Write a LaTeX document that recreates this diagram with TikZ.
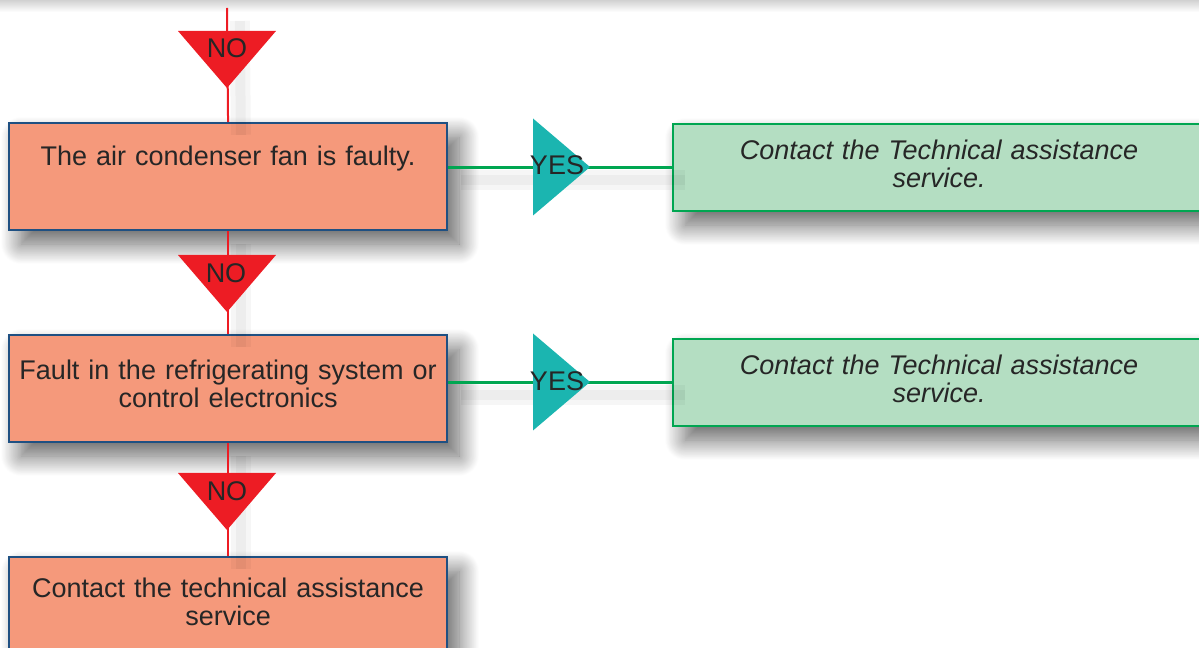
\documentclass[tikz,border=0pt]{standalone}
\usepackage{fontspec}
\setmainfont{Liberation Sans}
\usepackage{xcolor}
\usetikzlibrary{shadows.blur}
\definecolor{salmon}{HTML}{F5997B}
\definecolor{boxblue}{HTML}{1F5082}
\definecolor{nored}{HTML}{ED1C24}
\definecolor{yesteal}{HTML}{1BB5B0}
\definecolor{yesgreen}{HTML}{00A651}
\definecolor{mint}{HTML}{B4DEC2}
\newcommand{\boxfont}{\fontsize{19.2}{19.9}\selectfont}
\tikzset{
  softshadow/.style={blur shadow={shadow xshift=0.3cm, shadow yshift=-0.35cm, shadow blur radius=0.5cm, shadow blur steps=25, shadow opacity=62}},
  lineshadow/.style={preaction={draw=black, draw opacity=0.035, line width=0.5cm,
    transform canvas={shift={(0.32cm,-0.32cm)}}},
    preaction={draw=black, draw opacity=0.035, line width=0.25cm,
    transform canvas={shift={(0.32cm,-0.32cm)}}}},
  faultbox/.style={draw=boxblue, line width=0.05cm, fill=salmon, anchor=north west,
    minimum width=10.95cm, minimum height=2.675cm, text width=10.6cm, inner xsep=0cm,
    align=center, softshadow},
  servicebox/.style={draw=yesgreen, line width=0.05cm, fill=mint, anchor=north west,
    minimum width=13.3cm, minimum height=2.175cm, text width=12.6cm, text depth=0.9cm,
    align=center, font=\boxfont\itshape, softshadow},
  noline/.style={draw=nored, line width=0.05cm, lineshadow},
  yesline/.style={draw=yesgreen, line width=0.06cm, lineshadow}
}

\begin{document}
\begin{tikzpicture}[x=0.025cm, y=-0.025cm, font=\boxfont, text=black!85]
\useasboundingbox (0,0) rectangle (1199,648);
\clip (0,0) rectangle (1199,648);
\shade[top color=black!18, bottom color=white] (0,0) rectangle (1199,12);
% fault checks
\node[faultbox, text depth=1.05cm] (f1) at (8,122) {The air condenser fan is faulty.};
\node[faultbox, text depth=0.95cm] (f2) at (8,334) {Fault in the refrigerating system or\\ control electronics};
\node[faultbox, text depth=1.15cm] (f3) at (8,556) {Contact the technical assistance\\ service};
% service boxes
\node[servicebox] (c1) at (672,123) {Contact the Technical assistance\\ service.};
\node[servicebox] (c2) at (672,338) {Contact the Technical assistance\\ service.};
% connectors
\coordinate (top) at (227,8);
\draw[noline] (top) -- (f1.north);
\draw[noline] (f1.south) -- (f2.north);
\draw[noline] (f2.south) -- (f3.north);
\draw[yesline] (c1.west -| f1.east) -- (c1.west);
\draw[yesline] (c2.west -| f2.east) -- (c2.west);
% NO / YES marks
\foreach \ty in {31,255,473}{\fill[nored] (178,\ty) -- (276,\ty) -- (227,\ty+57) -- cycle;}
\foreach \ty in {167,382}{\fill[yesteal] (533,\ty-48.5) -- (590,\ty) -- (533,\ty+48.5) -- cycle;}
\node (no1) at (227,48) {NO};
\node (no2) at (226,273) {NO};
\node (no3) at (227,491) {NO};
\node (yes1) at (557,165) {YES};
\node (yes2) at (557,381) {YES};
\end{tikzpicture}
\end{document}
